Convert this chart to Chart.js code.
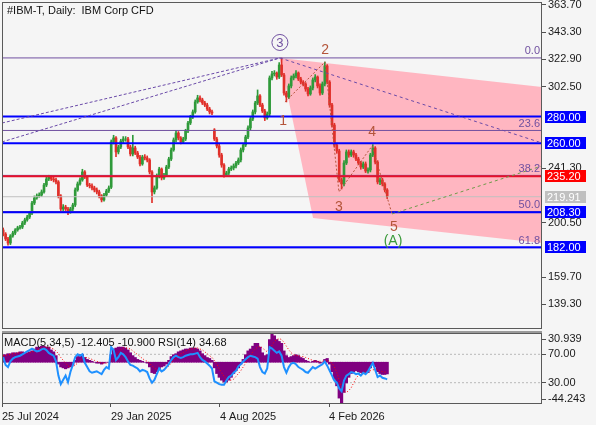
<!DOCTYPE html>
<html>
<head>
<meta charset="utf-8">
<title>#IBM-T Daily</title>
<script src="https://cdn.jsdelivr.net/npm/chart.js@4.4.1/dist/chart.umd.min.js"></script>
<style>
  html, body { margin: 0; padding: 0; background: #f5f5f5; }
  #wrap { position: relative; width: 596px; height: 425px; overflow: hidden; }
  canvas { position: absolute; left: 0; }
  #main { top: 0; }
  #sub { top: 331px; }
</style>
</head>
<body>
<div id="wrap">
  <canvas id="main" width="596" height="331"></canvas>
  <canvas id="sub" width="596" height="94"></canvas>
</div>
<script>
// ----- Price candles (one bar ~ two sessions) -----

const opens = [195.0,191.9,188.2,185.2,190.5,192.7,195.0,196.5,197.2,200.2,
  202.5,204.7,207.7,215.2,219.0,220.5,221.2,223.5,228.7,233.2,
  234.7,233.2,232.5,231.0,220.5,210.7,212.2,210.7,208.5,210.7,
  213.7,225.0,229.5,232.5,238.5,234.7,228.7,228.0,226.5,225.0,
  223.5,220.5,217.5,221.2,224.2,227.0,261.0,264.0,253.5,257.2,
  261.7,263.2,263.2,257.2,252.0,256.5,252.7,249.7,244.5,249.7,
  249.0,247.5,238.5,223.5,226.5,235.5,240.7,234.0,236.2,242.2,
  248.2,255.0,262.5,267.7,264.0,261.0,263.2,269.2,275.2,279.7,
  283.5,291.0,294.0,292.5,290.2,288.7,285.7,283.5,270.0,263.2,
  258.0,251.2,243.7,236.2,237.7,240.7,241.5,243.0,245.2,247.5,
  255.0,258.7,264.7,271.5,278.2,283.5,290.2,295.5,288.7,284.2,
  279.0,282.0,309.0,312.0,312.7,309.7,318.7,311.2,297.7,294.7,
  303.0,309.0,310.5,312.7,308.2,305.9,304.5,300.7,297.0,301.5,
  307.5,309.7,303.0,297.7,304.5,318.0,305.9,288.7,273.7,258.7,
  254.2,232.5,229.5,245.2,253.5,251.2,253.5,251.2,248.2,245.2,
  242.2,244.5,239.2,240.0,251.2,256.5,245.9,231.0,232.5,229.5,
  225.0];

const highs = [196.5,193.0,189.5,191.5,194.0,196.0,197.8,198.5,201.5,203.8,
  206.0,209.0,216.5,220.5,222.0,222.8,225.0,230.0,234.5,236.0,
  235.8,234.5,233.8,232.0,221.5,214.0,213.5,212.0,212.0,215.0,
  226.5,231.0,234.0,240.5,239.5,235.5,230.0,229.5,227.8,226.5,
  224.8,221.5,222.5,225.5,228.0,262.5,266.0,265.0,258.5,263.0,
  265.0,265.0,264.5,258.5,266.0,257.8,254.0,251.0,251.0,251.5,
  250.5,248.5,239.5,228.0,237.0,242.0,241.5,237.5,243.5,249.5,
  256.5,264.0,269.5,268.8,265.0,264.5,270.5,276.5,281.0,285.0,
  292.5,296.0,295.5,293.8,291.5,290.0,287.0,284.8,271.0,264.5,
  259.5,252.5,244.8,239.0,242.0,243.0,244.5,246.5,249.0,256.5,
  260.0,266.0,273.0,279.5,285.0,291.5,300.0,296.5,290.0,285.5,
  283.5,310.5,314.0,314.5,313.5,320.5,324.0,312.5,299.0,304.5,
  310.5,312.0,314.5,313.5,309.5,307.0,305.5,302.0,303.0,309.0,
  311.5,310.5,304.5,306.0,321.0,319.0,307.0,290.0,275.0,260.0,
  255.5,234.0,247.0,255.0,255.0,255.0,254.8,252.5,249.5,246.5,
  246.0,246.0,241.5,252.5,259.0,257.5,247.0,234.0,233.8,230.5,
  226.0];

const lows = [190.5,187.0,183.5,184.0,189.5,191.5,194.0,195.5,196.0,199.0,
  201.5,203.5,206.5,214.0,218.0,219.5,220.0,222.5,227.5,232.0,
  232.0,231.0,229.5,219.0,209.5,209.5,209.5,206.5,207.5,209.5,
  212.5,224.0,228.5,231.5,233.5,227.5,226.5,225.0,223.5,222.0,
  219.0,216.0,216.5,220.0,223.0,226.0,259.5,250.0,252.0,256.0,
  260.5,261.5,256.0,250.5,250.5,251.5,248.5,243.0,243.5,247.5,
  246.0,237.0,215.5,222.0,225.5,234.0,232.5,232.8,235.0,241.0,
  247.0,254.0,261.0,262.5,259.5,260.0,262.0,268.0,274.0,278.5,
  282.5,290.0,291.0,289.0,287.5,284.5,282.0,281.5,262.0,256.5,
  249.5,242.0,234.5,235.0,236.5,239.5,240.0,241.5,244.0,246.0,
  253.5,257.5,263.5,270.0,277.0,282.0,289.0,287.5,283.0,277.0,
  278.0,280.5,307.5,310.5,308.0,308.5,310.0,296.0,291.0,293.5,
  301.5,307.5,309.0,307.0,304.5,303.0,299.0,295.5,296.0,300.0,
  306.0,301.5,296.0,296.5,303.0,304.5,287.0,272.0,257.0,252.5,
  231.0,225.7,228.0,244.0,249.5,250.0,249.5,247.0,244.0,240.5,
  241.0,238.0,237.5,238.5,250.0,244.5,229.5,229.0,228.0,223.5,
  218.5];

const closes = [191.9,188.2,185.2,190.5,192.7,195.0,196.5,197.2,200.2,202.5,
  204.7,207.7,215.2,219.0,220.5,221.2,223.5,228.7,233.2,234.7,
  233.2,232.5,231.0,220.5,210.7,212.2,210.7,208.5,210.7,213.7,
  225.0,229.5,232.5,238.5,234.7,228.7,228.0,226.5,225.0,223.5,
  220.5,217.5,221.2,224.2,226.5,261.0,264.0,253.5,257.2,261.7,
  263.2,263.2,257.2,252.0,256.5,252.7,249.7,244.5,249.7,249.0,
  247.5,238.5,223.5,226.5,235.5,240.7,234.0,236.2,242.2,248.2,
  255.0,262.5,267.7,264.0,261.0,263.2,269.2,275.2,279.7,283.5,
  291.0,294.0,292.5,290.2,288.7,285.7,283.5,282.7,263.2,258.0,
  251.2,243.7,236.2,237.7,240.7,241.5,243.0,245.2,247.5,255.0,
  258.7,264.7,271.5,278.2,283.5,290.2,295.5,288.7,284.2,279.0,
  282.0,309.0,312.0,312.7,309.7,318.7,311.2,297.7,294.7,303.0,
  309.0,310.5,312.7,308.2,305.9,304.5,300.7,297.0,301.5,307.5,
  309.7,303.0,297.7,304.5,318.0,305.9,288.7,273.7,258.7,254.2,
  232.5,229.5,245.2,253.5,251.2,253.5,251.2,248.2,245.2,242.2,
  244.5,239.2,240.0,251.2,256.5,245.9,231.0,232.5,229.5,225.0,
  219.91];

// ----- Indicator window: MACD(5,34,5) + RSI(14) -----

const macdHist = [8,8,9,9,10,10,10,11,11,10,
  10,11,12,14,16,16,17,17,16,16,
  13,11,7,-2,-5,-6,-7,-6,-5,-3,
  2,6,8,8,5,3,2,1,0,-1,
  -1,-2,-1,0,0,8,14,15,16,16,
  16,15,13,10,7,5,3,2,1,0,
  -1,-5,-11,-12,-10,-7,-5,-4,-2,2,
  6,8,9,11,12,13,14,14,15,15,
  15,14,12,9,7,5,4,2,-6,-12,
  -16,-19,-21,-21,-19,-16,-12,-9,-6,-2,
  3,8,12,14,17,20,20,16,10,7,
  8,24,30.9,28,24,22,20,12,7,5,
  6,7,8,7,5,4,2,1,0,1,
  2,1,-1,0,3,4,-2,-10,-18,-25,
  -38,-44,-32,-22,-16,-12,-10,-9,-10,-11,
  -12,-12,-11,-6,-2,-5,-10,-12,-13,-13,
  -12.405];

const macdSignal = [7,7,8,8,9,9,10,10,10,10,
  10,10,11,12,13,14,15,16,16,16,
  15,14,12,9,5,2,-1,-4,-5,-5,
  -3,-1,2,4,5,5,4,3,2,1,
  0,-1,-1,-1,-1,1,4,7,10,13,
  15,15,15,14,12,10,8,6,4,2,
  1,-1,-4,-6,-8,-9,-9,-8,-6,-4,
  -1,2,5,7,9,10,12,13,14,14,
  15,15,14,13,11,9,7,5,2,-2,
  -7,-11,-15,-18,-19,-19,-18,-15,-12,-9,
  -5,-1,3,7,11,14,16,17,15,13,
  11,14,18,22,24,25,24,21,17,13,
  10,8,7,7,6,6,5,4,3,2,
  1,1,1,1,1,2,1,-1,-5,-11,
  -19,-27,-31,-32,-30,-27,-22,-17,-14,-12,
  -11,-11,-10,-9,-8,-8,-8,-9,-10,-10.5,
  -10.9];

const rsiValues = [66,55,52,60,64,66,67,68,70,72,
  74,76,78,76,74,75,77,78,76,72,
  70,68,60,40,28,34,40,31,45,55,
  66,70,68,70,58,52,46,44,45,46,
  44,42,48,52,50,80,76,62,66,72,
  70,66,60,55,54,52,50,46,48,47,
  45,36,30,34,42,50,46,48,52,56,
  62,66,68,66,65,66,68,69,70,70,
  71,72,66,62,60,57,54,50,32,30,
  28,27,27,33,38,40,44,47,53,56,
  60,63,66,68,67,66,64,52,45,43,
  50,80,78,75,72,74,68,52,44,52,
  57,58,56,52,50,48,45,44,48,52,
  50,52,54,56,60,54,47,40,33,30,
  22,18,33,40,42,45,44,42,43,40,
  44,42,46,52,58,48,38,40,37,36,
  34.68];

// ----- Axes -----

const priceTicks = [363.7, 343.3, 322.9, 302.5, 241.3, 200.5, 159.7, 139.3];
const dateTickIdx = [-0.5, 44.9, 90.3, 135.75];
const dateTickLabels = ["25 Jul 2024", "29 Jan 2025", "4 Aug 2025", "4 Feb 2026"];
const rsiLevels = [70, 30];
const macdRange = [-44.243, 30.939];

// ----- Chart objects (levels, fib, wave count) -----

const supportLevels = [280.0, 260.0, 208.3, 182.0];
const pivotLevel = 235.2;
const bidPrice = 219.91;
const fibPrices = [324.0, 269.6, 235.9, 208.8, 181.6];
const fibLabels = ["0.0", "23.6", "38.2", "50.0", "61.8"];
const axisBoxes = [280.0, 260.0, 235.2, 219.91, 208.3, 182.0];

const channelIdx = [115.3, 224.5, 224.5, 129.1, 115.3];
const channelPrice = [324.0, 302.2, 185.2, 204.0, 324.0];
const fanStartIdx = [-0.5, -0.5];
const fanStartPrice = [275.2, 261.0];
const peakIdx = 115.3;
const peakPrice = 324.0;
const peakRayEnd = [224.5, 260.2];
const waveIdx = [117.4, 134.1, 139.9, 153.7, 162.0];
const wavePrice = [291.0, 321.0, 223.5, 258.0, 207.0];
const targetEnd = [224.5, 243.0];
const waveLabelText = ["1", "2", "3", "4", "5"];
const waveLabelIdx = [116.6, 134.1, 139.9, 153.7, 162.8];
const waveLabelPrice = [276.7, 330.0, 212.2, 268.5, 197.2];
const peakLabelPrice = 335.6;
const degreeIdx = 162.4;
const degreePrice = 186.7;

// ----- Setup -----

const SLOTS = 225;
const X_MIN = -0.5;
const X_MAX = SLOTS - 0.5;
const FONT = '"Liberation Sans", Arial, sans-serif';
const UP = "#2f9a3a";
const DOWN = "#e0302a";
const FIB = "#7050a0";
const WAVE = "#b4553a";

Chart.defaults.font.family = FONT;
Chart.defaults.font.size = 11;
Chart.defaults.color = "#1a1a1a";

const barIdx = closes.map((_, i) => i);
const candleColor = barIdx.map(i => closes[i] >= opens[i] ? UP : DOWN);

function lineSet(points, color, width, dash, order, axis = "y") {
  return {
    type: "line", data: points, yAxisID: axis,
    borderColor: color, borderWidth: width, borderDash: dash,
    pointRadius: 0, fill: false, tension: 0, order
  };
}
const flat = (v) => [{ x: X_MIN, y: v }, { x: X_MAX, y: v }];
const seg = (x1, y1, x2, y2) => [{ x: x1, y: y1 }, { x: x2, y: y2 }];

// fixed axis size, no extra room for half-labels at the ends
function fitAxis(size) {
  return s => {
    if (s.isHorizontal()) s.height = size; else s.width = size;
    s.paddingTop = 0; s.paddingBottom = 0; s.paddingLeft = 0; s.paddingRight = 0;
  };
}

const mainDatasets = [
  {
    type: "line",
    data: channelIdx.map((x, i) => ({ x, y: channelPrice[i] })),
    borderColor: "transparent", borderWidth: 0, pointRadius: 0,
    backgroundColor: "#ffb6c1", fill: "shape", order: 30
  },
  {
    type: "bar",
    data: barIdx.map(i => ({ x: i, y: [lows[i], highs[i]] })),
    backgroundColor: candleColor, barThickness: 1, grouped: false, order: 21
  },
  {
    type: "bar",
    data: barIdx.map(i => ({ x: i, y: [opens[i], closes[i]] })),
    backgroundColor: candleColor, barThickness: 2, grouped: false, order: 20
  },
  lineSet(flat(bidPrice), "#c0c0c0", 1, [], 12),
  ...fibPrices.map(v => lineSet(flat(v), FIB, 1, [], 11)),
  ...supportLevels.map(v => lineSet(flat(v), "#0000ff", 2, [], 10)),
  lineSet(flat(pivotLevel), "#e8102a", 2, [], 9),
  ...fanStartIdx.map((x, i) => lineSet(seg(x, fanStartPrice[i], peakIdx, peakPrice), "#6a4aa8", 1, [3, 2], 8)),
  lineSet(seg(peakIdx, peakPrice, peakRayEnd[0], peakRayEnd[1]), "#6a4aa8", 1, [3, 3], 8),
  lineSet(waveIdx.map((x, i) => ({ x, y: wavePrice[i] })), WAVE, 1, [2, 2], 7),
  lineSet(seg(waveIdx[4], wavePrice[4], targetEnd[0], targetEnd[1]), "#6f9a4a", 1, [3, 3], 7)
];

// texts, circled wave label and price boxes on the axis
const mainOverlay = {
  id: "mainOverlay",
  afterDraw(chart) {
    const { ctx, chartArea: a } = chart;
    const xs = chart.scales.x, ys = chart.scales.y;
    ctx.save();

    ctx.strokeStyle = "#5a5a5a";
    ctx.lineWidth = 1;
    ctx.strokeRect(a.left + 0.5, a.top + 0.5, a.width - 1, a.height - 1);

    ctx.fillStyle = "#111";
    ctx.font = "11px " + FONT;
    ctx.textAlign = "left";
    ctx.textBaseline = "middle";
    ctx.fillText("#IBM-T, Daily:  IBM Corp CFD", a.left + 5, a.top + 9);

    ctx.fillStyle = FIB;
    ctx.textAlign = "right";
    ctx.textBaseline = "bottom";
    fibPrices.forEach((v, i) => ctx.fillText(fibLabels[i], a.right - 2, ys.getPixelForValue(v) - 1));

    ctx.font = "14px " + FONT;
    ctx.textAlign = "center";
    ctx.textBaseline = "middle";
    ctx.fillStyle = WAVE;
    waveLabelText.forEach((t, i) =>
      ctx.fillText(t, xs.getPixelForValue(waveLabelIdx[i]), ys.getPixelForValue(waveLabelPrice[i])));

    ctx.fillStyle = "#3a9a3a";
    ctx.fillText("(A)", xs.getPixelForValue(degreeIdx), ys.getPixelForValue(degreePrice));

    const cx = xs.getPixelForValue(peakIdx), cy = ys.getPixelForValue(peakLabelPrice);
    ctx.strokeStyle = FIB;
    ctx.beginPath();
    ctx.arc(cx, cy, 8, 0, Math.PI * 2);
    ctx.stroke();
    ctx.fillStyle = FIB;
    ctx.font = "13px " + FONT;
    ctx.fillText("3", cx, cy + 0.5);

    ctx.font = "11px " + FONT;
    ctx.textAlign = "left";
    axisBoxes.forEach(v => {
      const py = Math.round(ys.getPixelForValue(v));
      ctx.fillStyle = v === pivotLevel ? "#ff0000" : v === bidPrice ? "#c0c0c0" : "#0000ff";
      ctx.fillRect(a.right + 3, py - 6, 41, 12);
      ctx.fillStyle = "#ffffff";
      ctx.fillText(v.toFixed(2), a.right + 5, py + 0.5);
    });
    ctx.restore();
  }
};

new Chart(document.getElementById("main"), {
  type: "bar",
  data: { datasets: mainDatasets },
  options: {
    responsive: false, animation: false, devicePixelRatio: 1, events: [],
    layout: { padding: { left: 2, top: 2, right: 0, bottom: 2 } },
    plugins: { legend: { display: false }, tooltip: { enabled: false } },
    scales: {
      x: { type: "linear", min: X_MIN, max: X_MAX, offset: false, display: false },
      y: {
        position: "right", min: 120.7, max: 365.95,
        afterFit: fitAxis(54),
        afterBuildTicks: s => { s.ticks = priceTicks.map(value => ({ value })); },
        ticks: { callback: v => v.toFixed(2), padding: 2, autoSkip: false },
        grid: { drawOnChartArea: false, tickLength: 4, tickColor: "#505050" },
        border: { display: false }
      }
    }
  },
  plugins: [mainOverlay]
});

// ----- Indicator window -----

const subOverlay = {
  id: "subOverlay",
  afterDraw(chart) {
    const { ctx, chartArea: a } = chart;
    ctx.save();
    ctx.fillStyle = "#9a9a9a";
    ctx.fillRect(a.left, 0, a.width, 2);
    ctx.strokeStyle = "#5a5a5a";
    ctx.lineWidth = 1;
    ctx.strokeRect(a.left + 0.5, a.top + 0.5, a.width - 1, a.height - 1);
    ctx.fillStyle = "#111";
    ctx.font = "11px " + FONT;
    ctx.textAlign = "left";
    ctx.textBaseline = "middle";
    ctx.fillText("MACD(5,34,5) -12.405 -10.900 RSI(14) 34.68", a.left + 2, a.top + 10);
    ctx.restore();
  }
};

const subTickLabels = [macdRange[1].toFixed(3), ...rsiLevels.map(v => v.toFixed(2)), macdRange[0].toFixed(3)];

new Chart(document.getElementById("sub"), {
  type: "bar",
  data: {
    datasets: [
      lineSet(barIdx.map(i => ({ x: i, y: rsiValues[i] })), "#1e90ff", 2, [], 1, "yR"),
      lineSet(barIdx.map(i => ({ x: i, y: macdSignal[i] })), "#ff0000", 1, [1, 2], 2, "yM"),
      {
        type: "bar", yAxisID: "yM",
        data: barIdx.map(i => ({ x: i, y: macdHist[i] })),
        backgroundColor: "#800080", barThickness: 2.5, grouped: false, order: 3
      },
      ...rsiLevels.map(v => lineSet(flat(v), "#b8b8b8", 1, [2, 2], 4, "yR"))
    ]
  },
  options: {
    responsive: false, animation: false, devicePixelRatio: 1, events: [],
    layout: { padding: { left: 2, top: 2, right: 0, bottom: 0 } },
    plugins: { legend: { display: false }, tooltip: { enabled: false } },
    scales: {
      x: {
        type: "linear", min: X_MIN, max: X_MAX, offset: false, position: "bottom",
        afterFit: fitAxis(21),
        afterBuildTicks: s => { s.ticks = dateTickIdx.map(value => ({ value })); },
        ticks: { callback: (v, i) => dateTickLabels[i], align: "start", maxRotation: 0, autoSkip: false, padding: 3 },
        grid: { drawOnChartArea: false, tickLength: 3, tickColor: "#505050", offset: false },
        border: { display: false }
      },
      yR: {
        position: "right", min: 0, max: 100,
        afterFit: fitAxis(54),
        afterBuildTicks: s => { s.ticks = [91.5, ...rsiLevels, 7].map(value => ({ value })); },
        ticks: { callback: (v, i) => subTickLabels[i], padding: 2, autoSkip: false },
        grid: { drawOnChartArea: false, tickLength: 4, tickColor: "#505050" },
        border: { display: false }
      },
      yM: { display: false, min: macdRange[0], max: macdRange[1] }
    }
  },
  plugins: [subOverlay]
});
</script>
</body>
</html>
